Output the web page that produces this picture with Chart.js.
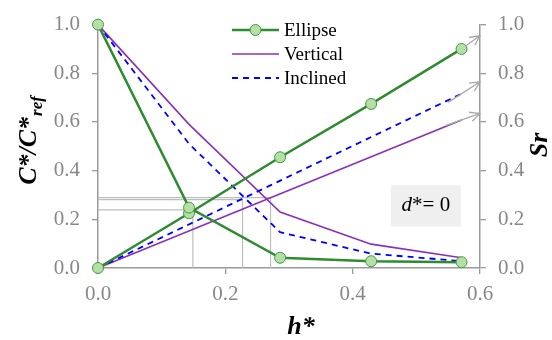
<!DOCTYPE html>
<html>
<head>
<meta charset="utf-8">
<script src="https://cdn.jsdelivr.net/npm/chart.js@4/dist/chart.umd.min.js"></script>
<style>
  html, body { margin: 0; padding: 0; background: #fff; }
  #wrap { width: 552px; height: 340px; }
</style>
</head>
<body>
<div id="wrap"><canvas id="chart" width="552" height="340"></canvas></div>
<script>
// ── Data ──
const hSteps = [0, 0.143, 0.286, 0.429, 0.571];

// concentration ratio C*/C*ref (left axis)
const ellipseC  = [1.0, 0.248, 0.042, 0.028, 0.024];
const verticalC = [1.0, 0.59, 0.23, 0.098, 0.042];
const inclinedC = [1.0, 0.51, 0.147, 0.059, 0.028];

// Sr (right axis)
const ellipseSr = [0, 0.225, 0.455, 0.674, 0.9];
const lineEnds = [0, 0.571];
const verticalSr = [0, 0.608];
const inclinedSr = [0, 0.716];

// Sr extrapolated to h* = 0.6 (arrow tips)
const arrowTips = [0.955, 0.765, 0.635];

// where the C and Sr curves cross
const crossH = [0.149, 0.227, 0.271];
const crossV = [0.239, 0.281, 0.289];

const GREEN = '#2e8b2e';
const PURPLE = '#8a30b8';
const BLUE = '#0000ff';
const AXIS = '#9a9a9a';
const SERIF = '"Liberation Serif", "Times New Roman", serif';

const pts = (xs, ys) => xs.map((x, i) => ({ x: x, y: ys[i] }));

const markerStyle = {
    pointRadius: 5.5, pointHoverRadius: 5.5,
    pointBackgroundColor: '#b5dfa6', pointBorderColor: '#3f9b3f', pointBorderWidth: 1
};

const datasets = [
    Object.assign({ label: 'Ellipse', data: pts(hSteps, ellipseC), yAxisID: 'y',
        borderColor: GREEN, borderWidth: 2.5 }, markerStyle),
    Object.assign({ label: 'Ellipse Sr', data: pts(hSteps, ellipseSr), yAxisID: 'y2',
        borderColor: GREEN, borderWidth: 2.5 }, markerStyle),
    { label: 'Inclined', data: pts(hSteps, inclinedC), yAxisID: 'y',
        borderColor: BLUE, borderWidth: 1.8, borderDash: [6, 5], pointRadius: 0 },
    { label: 'Inclined Sr', data: pts(lineEnds, inclinedSr), yAxisID: 'y2',
        borderColor: BLUE, borderWidth: 1.8, borderDash: [6, 5], pointRadius: 0 },
    { label: 'Vertical', data: pts(hSteps, verticalC), yAxisID: 'y',
        borderColor: PURPLE, borderWidth: 1.6, pointRadius: 0 },
    { label: 'Vertical Sr', data: pts(lineEnds, verticalSr), yAxisID: 'y2',
        borderColor: PURPLE, borderWidth: 1.6, pointRadius: 0 }
];

// gray guide lines: axis -> crossing -> axis
crossH.forEach((h, i) => {
    datasets.push({
        label: 'guide' + i,
        data: [{ x: 0, y: crossV[i] }, { x: h, y: crossV[i] }, { x: h, y: 0 }],
        yAxisID: 'y', borderColor: '#bdbdbd', borderWidth: 1.2, pointRadius: 0
    });
});
datasets.forEach(ds => { ds.clip = false; ds.tension = 0; ds.fill = false; });

// ── Decorations: legend, titles, arrows, label box ──
const decorations = {
    id: 'decorations',
    afterDatasetsDraw(chart) {
        const ctx = chart.ctx;
        const x = chart.scales.x, y2 = chart.scales.y2;
        const srSets = [ellipseSr, inclinedSr, verticalSr];
        ctx.save();
        ctx.strokeStyle = '#a8a8a8';
        ctx.lineWidth = 1.3;
        srSets.forEach((arr, i) => {
            const x0 = x.getPixelForValue(0.571), y0 = y2.getPixelForValue(arr[arr.length - 1]);
            const x1 = x.getPixelForValue(0.6), y1 = y2.getPixelForValue(arrowTips[i]);
            const ang = Math.atan2(y1 - y0, x1 - x0);
            const startOff = i === 0 ? 6 : -16;
            const sx = x0 + Math.cos(ang) * startOff, sy = y0 + Math.sin(ang) * startOff;
            ctx.beginPath();
            ctx.moveTo(sx, sy);
            ctx.lineTo(x1, y1);
            ctx.moveTo(x1 - 11 * Math.cos(ang - 0.45), y1 - 11 * Math.sin(ang - 0.45));
            ctx.lineTo(x1, y1);
            ctx.lineTo(x1 - 11 * Math.cos(ang + 0.45), y1 - 11 * Math.sin(ang + 0.45));
            ctx.stroke();
        });
        ctx.restore();
    },
    afterDraw(chart) {
        const ctx = chart.ctx;
        const x = chart.scales.x, y = chart.scales.y;
        ctx.save();

        // legend
        const rows = [
            { ds: chart.data.datasets[0], y: 30 },
            { ds: chart.data.datasets[4], y: 54 },
            { ds: chart.data.datasets[2], y: 78 }
        ];
        rows.forEach(r => {
            ctx.strokeStyle = r.ds.borderColor;
            ctx.lineWidth = r.ds.borderWidth;
            ctx.setLineDash(r.ds.borderDash || []);
            ctx.beginPath();
            ctx.moveTo(232, r.y);
            ctx.lineTo(279, r.y);
            ctx.stroke();
            ctx.setLineDash([]);
            if (r.ds.pointRadius) {
                ctx.beginPath();
                ctx.arc(255.5, r.y, r.ds.pointRadius, 0, Math.PI * 2);
                ctx.fillStyle = r.ds.pointBackgroundColor;
                ctx.fill();
                ctx.lineWidth = 1;
                ctx.strokeStyle = r.ds.pointBorderColor;
                ctx.stroke();
            }
            ctx.fillStyle = '#000';
            ctx.font = '19px ' + SERIF;
            ctx.textBaseline = 'middle';
            ctx.textAlign = 'left';
            ctx.fillText(r.ds.label, 284, r.y + 1);
        });

        // d* label box
        const bx0 = x.getPixelForValue(0.460), bx1 = x.getPixelForValue(0.570);
        const by0 = y.getPixelForValue(0.34), by1 = y.getPixelForValue(0.17);
        ctx.fillStyle = '#efefef';
        ctx.fillRect(bx0, by0, bx1 - bx0, by1 - by0);
        ctx.fillStyle = '#000';
        ctx.textBaseline = 'alphabetic';
        ctx.font = 'italic 21px ' + SERIF;
        const dW = ctx.measureText('d').width;
        ctx.font = '21px ' + SERIF;
        const restW = ctx.measureText('*= 0').width;
        let tx = (bx0 + bx1) / 2 - (dW + restW) / 2;
        ctx.font = 'italic 21px ' + SERIF;
        ctx.fillText('d', tx, 211);
        ctx.font = '21px ' + SERIF;
        ctx.fillText('*= 0', tx + dW, 211);

        // axis titles
        ctx.font = 'bold italic 26px ' + SERIF;
        ctx.textAlign = 'center';
        ctx.fillText('h*', (x.left + x.right) / 2 + 12, 334);

        ctx.save();
        ctx.translate(547, 145);
        ctx.rotate(-Math.PI / 2);
        ctx.fillText('Sr', 0, 0);
        ctx.restore();

        ctx.save();
        ctx.translate(36, 141);
        ctx.rotate(-Math.PI / 2);
        ctx.textAlign = 'left';
        const mainW = ctx.measureText('C*/C*').width;
        ctx.font = 'bold italic 17px ' + SERIF;
        const subW = ctx.measureText('ref').width;
        const start = -(mainW + subW) / 2;
        ctx.font = 'bold italic 26px ' + SERIF;
        ctx.fillText('C*/C*', start, 0);
        ctx.font = 'bold italic 17px ' + SERIF;
        ctx.fillText('ref', start + mainW + 1, 6);
        ctx.restore();

        ctx.restore();
    }
};

const tickFont = { family: SERIF, size: 21 };
const oneDecimal = v => v.toFixed(1);

new Chart(document.getElementById('chart'), {
    type: 'line',
    data: { datasets: datasets },
    options: {
        responsive: false,
        animation: false,
        events: [],
        layout: { autoPadding: false, padding: { top: 22, left: 0, right: 0, bottom: 0 } },
        plugins: { legend: { display: false }, tooltip: { enabled: false } },
        scales: {
            x: {
                type: 'linear', min: 0, max: 0.6,
                ticks: { stepSize: 0.2, callback: oneDecimal, color: '#888', font: tickFont, padding: 8 },
                grid: { drawOnChartArea: false, tickLength: 6, color: AXIS, lineWidth: 1.3 },
                border: { color: AXIS, width: 1.5 },
                afterFit: s => { s.height = 72; }
            },
            y: {
                position: 'left', min: 0, max: 1,
                ticks: { stepSize: 0.2, callback: oneDecimal, color: '#888', font: tickFont, padding: 12 },
                grid: { drawOnChartArea: false, tickLength: 6, color: AXIS, lineWidth: 1.3 },
                border: { color: AXIS, width: 1.5 },
                afterFit: s => { s.width = 98; }
            },
            y2: {
                position: 'right', min: 0, max: 1,
                ticks: { stepSize: 0.2, callback: oneDecimal, color: '#888', font: tickFont, padding: 12 },
                grid: { drawOnChartArea: false, tickLength: 6, color: AXIS, lineWidth: 1.3 },
                border: { color: AXIS, width: 1.5 },
                afterFit: s => { s.width = 72; }
            }
        }
    },
    plugins: [decorations]
});
</script>
</body>
</html>
